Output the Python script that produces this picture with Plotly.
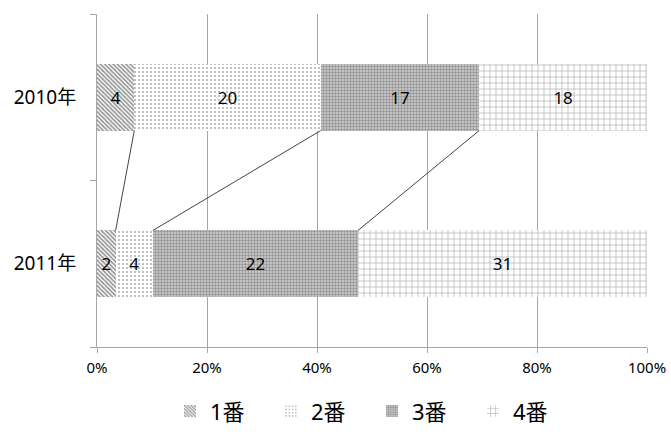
import plotly.graph_objects as go

categories = ["2011年", "2010年"]
series_names = ["1番", "2番", "3番", "4番"]
values_2010 = [4, 20, 17, 18]
values_2011 = [2, 4, 22, 31]
x_ticks = [0, 20, 40, 60, 80, 100]
x_tick_labels = ["0%", "20%", "40%", "60%", "80%", "100%"]

patterns = [
    dict(shape="\\", fgcolor="#2a2a2a", bgcolor="white", size=3, solidity=0.55),
    dict(shape=".", fgcolor="#555555", bgcolor="white", size=4, solidity=0.2),
    dict(shape=".", fgcolor="#555555", bgcolor="#d0d0d0", size=3, solidity=0.5),
    dict(shape="+", fgcolor="#505050", bgcolor="white", size=6, solidity=0.2),
]

rows = {"2010年": values_2010, "2011年": values_2011}
pct = {k: [v / sum(vals) * 100 for v in vals] for k, vals in rows.items()}

FONT = "Noto Sans, Noto Sans CJK JP, sans-serif"
fig = go.Figure()
for i, name in enumerate(series_names):
    fig.add_trace(go.Bar(
        name=name,
        orientation="h",
        y=categories,
        x=[pct[c][i] for c in categories],
        text=[str(rows[c][i]) for c in categories],
        textposition="inside",
        insidetextanchor="middle",
        textangle=0,
        textfont=dict(color="black", size=17, family=FONT),
        marker=dict(color="white", line=dict(width=0), pattern=patterns[i]),
        width=0.4,
        hoverinfo="skip",
    ))

# series lines connecting cumulative boundaries
half = 0.2
idx_2010 = categories.index("2010年")
idx_2011 = categories.index("2011年")
cum10 = 0
cum11 = 0
for i in range(len(series_names) - 1):
    cum10 += pct["2010年"][i]
    cum11 += pct["2011年"][i]
    fig.add_shape(type="line", xref="x", yref="y",
                  x0=cum10, y0=idx_2010 - half, x1=cum11, y1=idx_2011 + half,
                  line=dict(color="#444444", width=1))

fig.update_layout(
    barmode="stack",
    width=671, height=447,
    margin=dict(l=97, r=24, t=14, b=100, autoexpand=False),
    plot_bgcolor="white", paper_bgcolor="white",
    font=dict(family=FONT, color="black"),
    showlegend=True,
    legend=dict(orientation="h", x=0.5, xanchor="center", y=-0.13, yanchor="top",
                font=dict(size=22, family=FONT), itemwidth=30,
                entrywidth=56, entrywidthmode="pixels", traceorder="normal"),
    uniformtext=dict(mode="show", minsize=17),
    bargap=0.6,
)
fig.update_xaxes(range=[0, 100], tickvals=x_ticks, ticktext=x_tick_labels,
                 showgrid=True, gridcolor="#a6a6a6", gridwidth=1,
                 showline=True, linecolor="#a6a6a6", linewidth=1,
                 ticks="outside", ticklen=5, tickcolor="#a6a6a6",
                 tickfont=dict(size=15, family=FONT), zeroline=False, automargin=False,
                 ticklabelstandoff=2)
fig.update_yaxes(type="category", categoryorder="array", categoryarray=categories,
                 tickson="boundaries", ticks="outside", ticklen=6, tickcolor="#a6a6a6",
                 showline=True, linecolor="#a6a6a6", linewidth=1,
                 showgrid=False, tickfont=dict(size=19, family=FONT), automargin=False,
                 ticklabelstandoff=16)

fig.write_html("out.html", config={"displayModeBar": False},
               post_script="document.body.style.margin='0';")
